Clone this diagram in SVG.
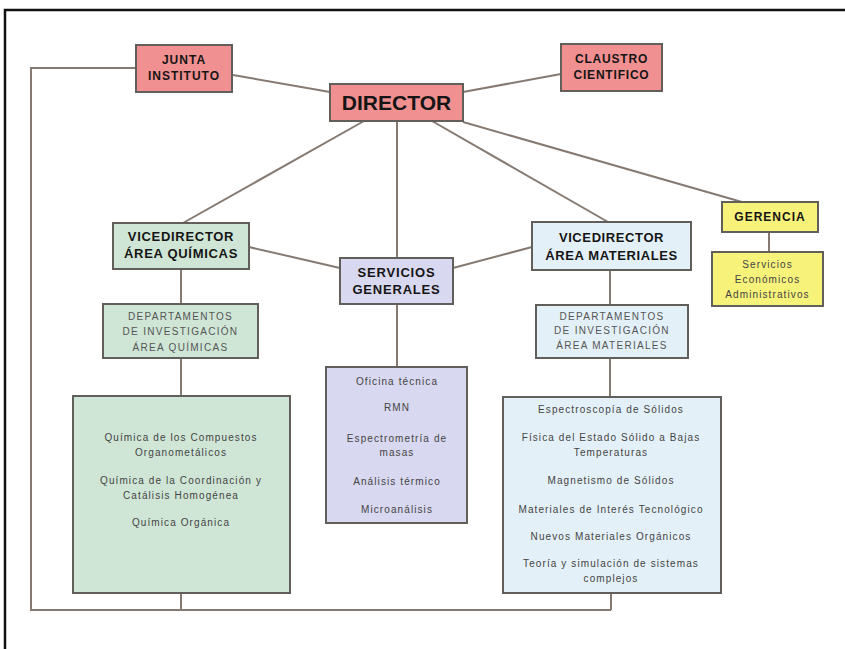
<svg xmlns="http://www.w3.org/2000/svg" width="845" height="649" viewBox="0 0 845 649">
<style>
.box{stroke:#625e5a;stroke-width:2}
.pink{fill:#f19090}
.green{fill:#cfe6d6}
.lav{fill:#d8d8f0}
.blue{fill:#e4f0f8}
.yel{fill:#f7f27a}
.hd{font-family:"Liberation Sans",Arial,sans-serif;font-weight:bold;fill:#151515;text-anchor:middle}
.dp{font-family:"Liberation Sans",Arial,sans-serif;font-size:10px;letter-spacing:1.3px;fill:#555;text-anchor:middle}
.sm{font-family:"Liberation Sans",Arial,sans-serif;font-size:10px;letter-spacing:1.1px;fill:#444;text-anchor:middle}
.ln{stroke:#857a72;stroke-width:2;fill:none}
</style>
<rect width="845" height="649" fill="#ffffff"/>
<path d="M5,649 V10 H845" stroke="#111" stroke-width="2.5" fill="none"/>
<g id="connectors">
<line class="ln" x1="233" y1="75" x2="330" y2="92"/>
<line class="ln" x1="463" y1="92" x2="561" y2="74"/>
<polyline class="ln" points="136,68 31,68 31,610 611,610"/>
<line class="ln" x1="181" y1="593" x2="181" y2="610"/>
<line class="ln" x1="611" y1="593" x2="611" y2="610"/>
<line class="ln" x1="364" y1="121" x2="183" y2="223"/>
<line class="ln" x1="397" y1="121" x2="397" y2="258"/>
<line class="ln" x1="432" y1="121" x2="608" y2="222"/>
<line class="ln" x1="463" y1="122" x2="742" y2="202"/>
<line class="ln" x1="249" y1="247" x2="340" y2="268"/>
<line class="ln" x1="453" y1="268" x2="532" y2="247"/>
<line class="ln" x1="181" y1="269" x2="181" y2="304"/>
<line class="ln" x1="181" y1="358" x2="181" y2="396"/>
<line class="ln" x1="397" y1="304" x2="397" y2="367"/>
<line class="ln" x1="610" y1="270" x2="610" y2="305"/>
<line class="ln" x1="610" y1="358" x2="610" y2="397"/>
<line class="ln" x1="769" y1="232" x2="769" y2="252"/>
</g>
<g id="junta">
<rect class="box pink" x="136" y="45" width="96" height="47"/>
<text class="hd" x="184" y="64" font-size="12" letter-spacing="1">JUNTA</text>
<text class="hd" x="184" y="80" font-size="12" letter-spacing="1">INSTITUTO</text>
</g>
<g id="director">
<rect class="box pink" x="330" y="84" width="133" height="37"/>
<text class="hd" x="396.5" y="110" font-size="21">DIRECTOR</text>
</g>
<g id="claustro">
<rect class="box pink" x="561" y="44" width="101" height="47"/>
<text class="hd" x="611.5" y="63" font-size="12" letter-spacing="0.8">CLAUSTRO</text>
<text class="hd" x="611.5" y="79" font-size="12" letter-spacing="0.8">CIENTIFICO</text>
</g>
<g id="vicedirector-quimicas">
<rect class="box green" x="113" y="223" width="136" height="46"/>
<text class="hd" x="181" y="241" font-size="13" letter-spacing="0.7">VICEDIRECTOR</text>
<text class="hd" x="181" y="258" font-size="13" letter-spacing="0.7">ÁREA QUÍMICAS</text>
</g>
<g id="servicios-generales">
<rect class="box lav" x="340" y="258" width="113" height="46"/>
<text class="hd" x="396.5" y="277" font-size="13" letter-spacing="0.8">SERVICIOS</text>
<text class="hd" x="396.5" y="294" font-size="13" letter-spacing="0.8">GENERALES</text>
</g>
<g id="vicedirector-materiales">
<rect class="box blue" x="532" y="222" width="159" height="48"/>
<text class="hd" x="611.5" y="242" font-size="13" letter-spacing="0.6">VICEDIRECTOR</text>
<text class="hd" x="611.5" y="260" font-size="13" letter-spacing="0.6">ÁREA MATERIALES</text>
</g>
<g id="gerencia">
<rect class="box yel" x="722" y="202" width="96" height="30"/>
<text class="hd" x="770" y="221" font-size="12" letter-spacing="1">GERENCIA</text>
</g>
<g id="servicios-economicos">
<rect class="box yel" x="712" y="252" width="111" height="54"/>
<text class="sm" x="767.5" y="268" letter-spacing="1.3">Servicios</text>
<text class="sm" x="767.5" y="283" letter-spacing="1.3">Económicos</text>
<text class="sm" x="767.5" y="298" letter-spacing="1.3">Administrativos</text>
</g>
<g id="dep-quimicas">
<rect class="box green" x="103" y="304" width="155" height="54"/>
<text class="dp" x="180.5" y="320">DEPARTAMENTOS</text>
<text class="dp" x="180.5" y="335">DE INVESTIGACIÓN</text>
<text class="dp" x="180.5" y="351">ÁREA QUÍMICAS</text>
</g>
<g id="dep-materiales">
<rect class="box blue" x="536" y="305" width="152" height="53"/>
<text class="dp" x="612" y="320">DEPARTAMENTOS</text>
<text class="dp" x="612" y="334">DE INVESTIGACIÓN</text>
<text class="dp" x="612" y="349">ÁREA MATERIALES</text>
</g>
<g id="grupos-quimicas">
<rect class="box green" x="73" y="396" width="217" height="197"/>
<text class="sm" x="181" y="441">Química de los Compuestos</text>
<text class="sm" x="181" y="456">Organometálicos</text>
<text class="sm" x="181" y="484">Química de la Coordinación y</text>
<text class="sm" x="181" y="499">Catálisis Homogénea</text>
<text class="sm" x="181" y="526">Química Orgánica</text>
</g>
<g id="grupos-servicios">
<rect class="box lav" x="326" y="367" width="141" height="156"/>
<text class="sm" x="397" y="385">Oficina técnica</text>
<text class="sm" x="397" y="411">RMN</text>
<text class="sm" x="397" y="442">Espectrometría de</text>
<text class="sm" x="397" y="456">masas</text>
<text class="sm" x="397" y="485">Análisis térmico</text>
<text class="sm" x="397" y="513">Microanálisis</text>
</g>
<g id="grupos-materiales">
<rect class="box blue" x="503" y="397" width="218" height="196"/>
<text class="sm" x="611" y="413">Espectroscopía de Sólidos</text>
<text class="sm" x="611" y="441">Física del Estado Sólido a Bajas</text>
<text class="sm" x="611" y="456">Temperaturas</text>
<text class="sm" x="611" y="484">Magnetismo de Sólidos</text>
<text class="sm" x="611" y="513">Materiales de Interés Tecnológico</text>
<text class="sm" x="611" y="540">Nuevos Materiales Orgánicos</text>
<text class="sm" x="611" y="567">Teoría y simulación de sistemas</text>
<text class="sm" x="611" y="582">complejos</text>
</g>
</svg>
